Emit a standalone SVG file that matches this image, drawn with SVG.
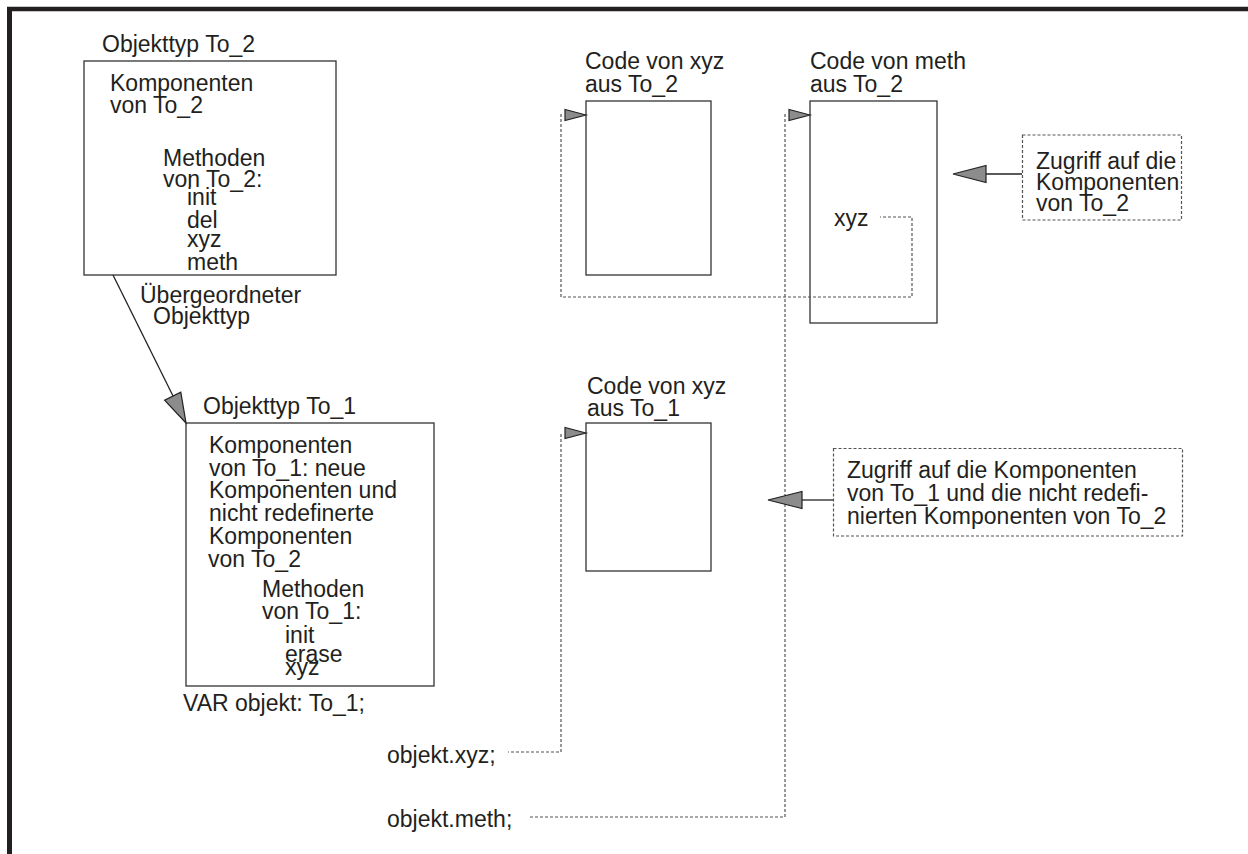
<svg xmlns="http://www.w3.org/2000/svg" width="1248" height="854" viewBox="0 0 1248 854">
<style>
text{font-family:"Liberation Sans",Arial,sans-serif;font-size:23px;fill:#231f20}
.box{fill:none;stroke:#333;stroke-width:1.3}
.dbox{fill:none;stroke:#555;stroke-width:1.2;stroke-dasharray:3 2}
.dash{fill:none;stroke:#555;stroke-width:1.2;stroke-dasharray:3 2}
.line{fill:none;stroke:#222;stroke-width:1.3}
.head{fill:#8c8c8c;stroke:#222;stroke-width:1.2;stroke-linejoin:miter}
</style>
<rect width="1248" height="854" fill="#fff"/>
<g id="frame">
<line x1="9.5" y1="7" x2="9.5" y2="854" stroke="#231f20" stroke-width="5"/>
<line x1="7" y1="9" x2="1248" y2="9" stroke="#231f20" stroke-width="4.5"/>
</g>
<g id="to2">
<text x="102" y="52">Objekttyp To_2</text>
<rect class="box" x="84" y="61" width="252" height="214"/>
<text x="110" y="91">Komponenten</text>
<text x="110" y="113">von To_2</text>
<text x="163" y="166">Methoden</text>
<text x="163" y="187">von To_2:</text>
<text x="187" y="205">init</text>
<text x="187" y="228">del</text>
<text x="187" y="247">xyz</text>
<text x="187" y="270">meth</text>
</g>
<g id="to1">
<text x="203" y="414">Objekttyp To_1</text>
<rect class="box" x="186" y="423" width="248" height="263"/>
<text x="209" y="453">Komponenten</text>
<text x="209" y="476">von To_1: neue</text>
<text x="209" y="498">Komponenten und</text>
<text x="209" y="521">nicht redefinerte</text>
<text x="209" y="544">Komponenten</text>
<text x="208" y="567">von To_2</text>
<text x="262" y="597">Methoden</text>
<text x="262" y="619">von To_1:</text>
<text x="285" y="643">init</text>
<text x="285" y="662">erase</text>
<text x="285" y="675">xyz</text>
</g>
<g id="var">
<text x="183" y="711">VAR objekt: To_1;</text>
</g>
<g id="inherit-label">
<text x="140" y="303">Übergeordneter</text>
<text x="153" y="324">Objekttyp</text>
</g>
<g id="code-xyz-to2">
<text x="585" y="69">Code von xyz</text>
<text x="585" y="92">aus To_2</text>
<rect class="box" x="586" y="101" width="125" height="174"/>
</g>
<g id="code-meth-to2">
<text x="810" y="69">Code von meth</text>
<text x="810" y="92">aus To_2</text>
<rect class="box" x="810" y="101" width="127" height="222"/>
<text x="834" y="226">xyz</text>
</g>
<g id="code-xyz-to1">
<text x="587" y="394">Code von xyz</text>
<text x="587" y="416">aus To_1</text>
<rect class="box" x="586" y="423" width="125" height="148"/>
</g>
<g id="note1">
<rect class="dbox" x="1022.5" y="135" width="159" height="85"/>
<text x="1036" y="169">Zugriff auf die</text>
<text x="1036" y="190">Komponenten</text>
<text x="1036" y="211">von To_2</text>
</g>
<g id="note2">
<rect class="dbox" x="833.5" y="448.5" width="349" height="87.5"/>
<text x="847" y="478">Zugriff auf die Komponenten</text>
<text x="847" y="501">von To_1 und die nicht redefi-</text>
<text x="847" y="524">nierten Komponenten von To_2</text>
</g>
<g id="calls">
<text x="387" y="763">objekt.xyz;</text>
<text x="387" y="827">objekt.meth;</text>
</g>
<g id="connectors">
<line class="line" x1="113" y1="275" x2="176" y2="402"/>
<polygon class="head" points="186,423 164.6,400.1 180.8,392.1"/>
<path class="dash" d="M561 114 V297 H912 V217 H880"/>
<polygon class="head" points="586,115 565,109.5 565,120.5"/>
<path class="dash" d="M785 114 V817 H530"/>
<polygon class="head" points="810,115 789,109.5 789,120.5"/>
<path class="dash" d="M561 434 V752 H508"/>
<polygon class="head" points="586,433 565,427.5 565,438.5"/>
<line class="line" x1="1022" y1="174" x2="986" y2="174"/>
<polygon class="head" points="953,174 986,165.5 986,182.5"/>
<line class="line" x1="833" y1="500" x2="802" y2="500"/>
<polygon class="head" points="768,500 802,491.5 802,508.5"/>
</g>
</svg>
